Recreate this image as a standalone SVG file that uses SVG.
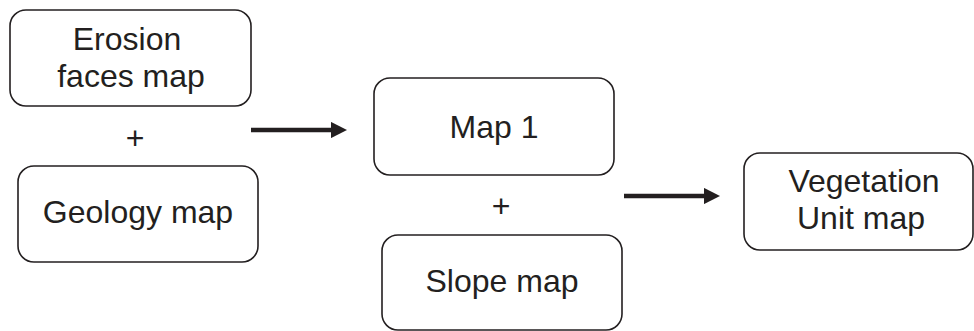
<svg xmlns="http://www.w3.org/2000/svg" width="974" height="331" viewBox="0 0 974 331">
<style>
.box{fill:#fff;stroke:#231f20;stroke-width:1.6}
.t{font-family:"Liberation Sans",Arial,sans-serif;font-size:32px;fill:#231f20;text-anchor:middle}
.conn{stroke:#231f20;stroke-width:4.5;fill:none}
</style>
<defs>
<marker id="ah" viewBox="0 0 10 10" refX="0" refY="5" markerWidth="3.6" markerHeight="3.6" orient="auto" markerUnits="strokeWidth">
<path d="M0,0 L10,5 L0,10 z" fill="#231f20"/>
</marker>
</defs>
<rect width="974" height="331" fill="#fff"/>
<g id="erosion">
<rect class="box" x="10" y="10" width="241" height="96" rx="16"/>
<text class="t" x="127" y="50">Erosion</text>
<text class="t" x="131" y="87">faces map</text>
</g>
<g id="plus1"><text class="t" x="135" y="149">+</text></g>
<g id="geology">
<rect class="box" x="18" y="166" width="240" height="96" rx="16"/>
<text class="t" x="138" y="223">Geology map</text>
</g>
<g id="map1">
<rect class="box" x="374" y="78" width="240" height="97" rx="16"/>
<text class="t" x="494" y="138">Map 1</text>
</g>
<g id="plus2"><text class="t" x="501" y="217">+</text></g>
<g id="slope">
<rect class="box" x="382" y="235" width="240" height="95" rx="16"/>
<text class="t" x="502" y="292">Slope map</text>
</g>
<g id="vegetation">
<rect class="box" x="744" y="153" width="229" height="97" rx="16"/>
<text class="t" x="864" y="192">Vegetation</text>
<text class="t" x="861" y="229">Unit map</text>
</g>
<g id="connectors">
<line class="conn" x1="251" y1="130" x2="331" y2="130" marker-end="url(#ah)"/>
<line class="conn" x1="624" y1="196" x2="704" y2="196" marker-end="url(#ah)"/>
</g>
</svg>
